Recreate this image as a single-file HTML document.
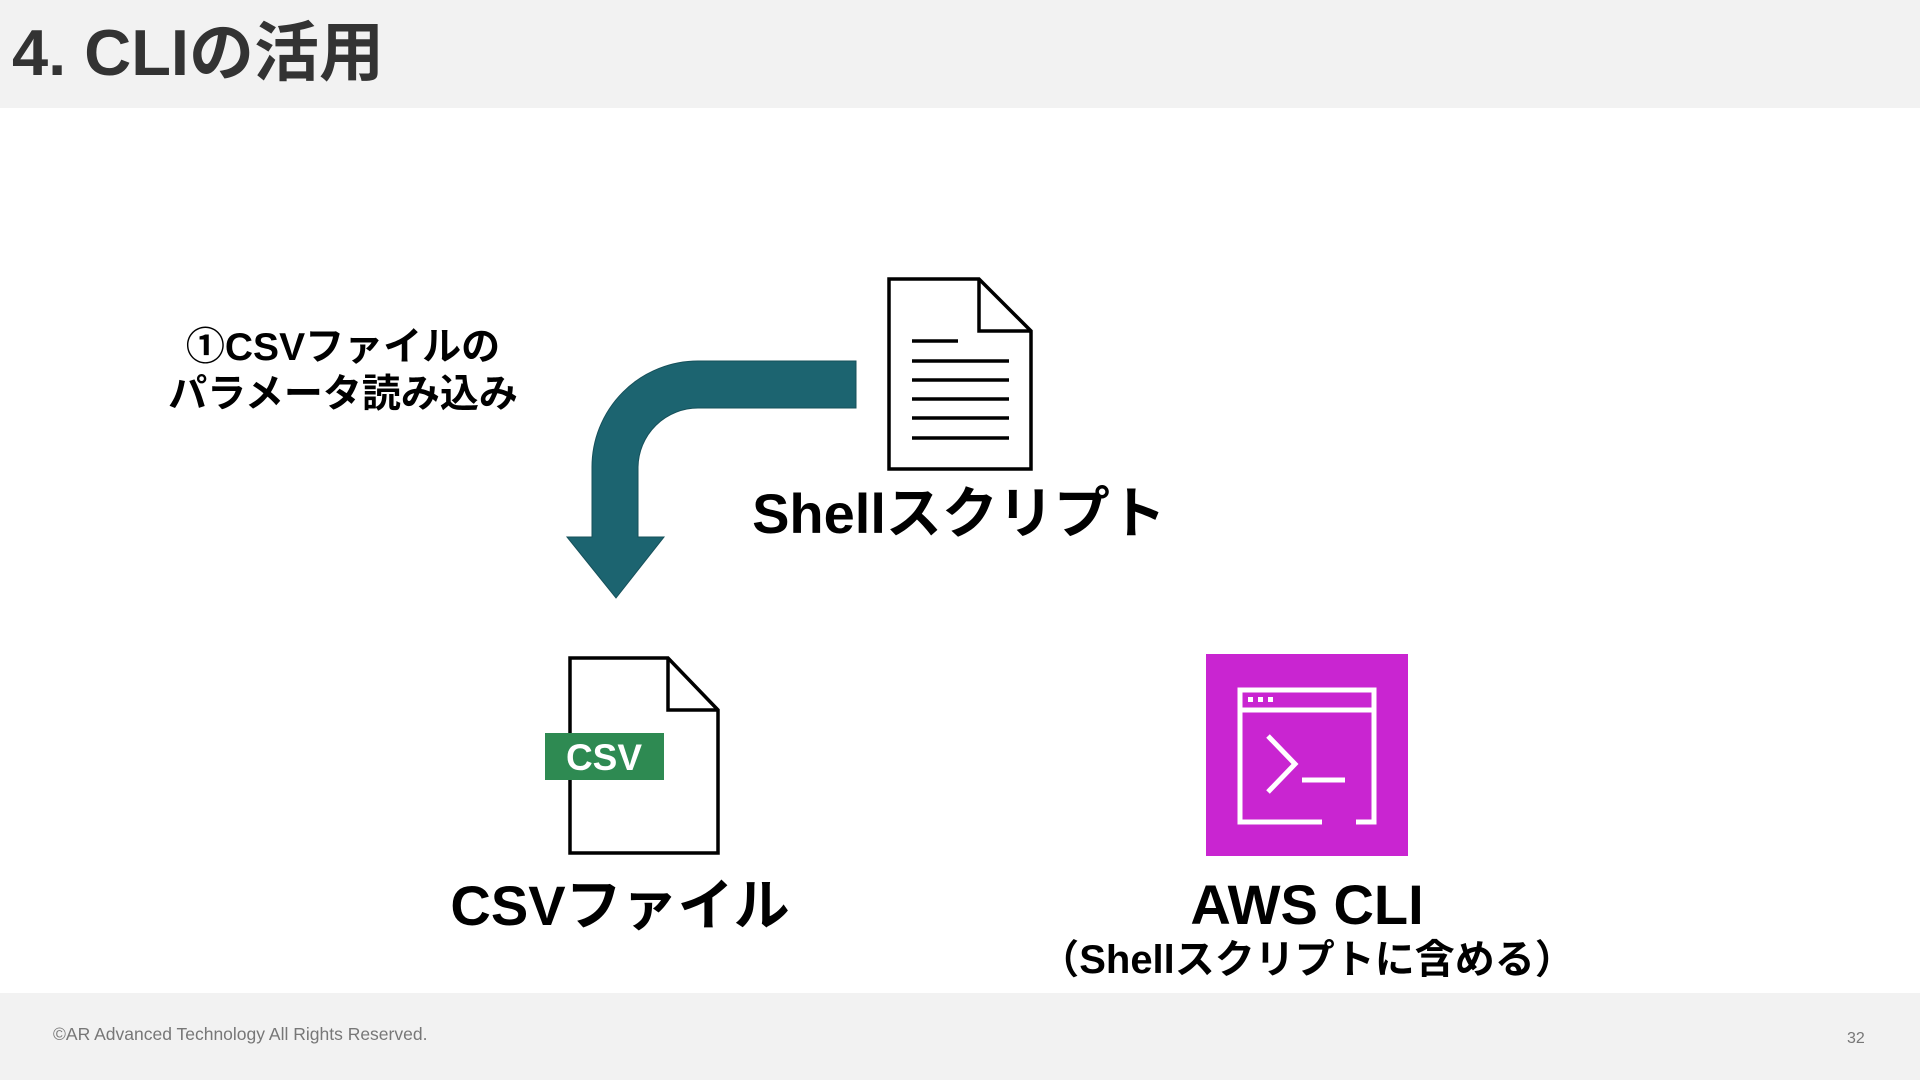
<!DOCTYPE html>
<html><head><meta charset="utf-8"><style>
html,body{margin:0;padding:0;width:1920px;height:1080px;overflow:hidden;background:#fff}
svg{display:block}
text{font-family:"Liberation Sans","Noto Sans CJK JP",sans-serif}
</style></head><body>
<svg width="1920" height="1080" viewBox="0 0 1920 1080" xmlns="http://www.w3.org/2000/svg">
<rect x="0" y="0" width="1920" height="108" fill="#f2f2f2"/>
<text x="12" y="75" font-size="65" font-weight="bold" fill="#333">4. CLIの活用</text>
<rect x="0" y="993" width="1920" height="87" fill="#f2f2f2"/>
<text x="53" y="1040" font-size="17.5" fill="#777">©AR Advanced Technology All Rights Reserved.</text>
<text x="1847" y="1043" font-size="16" fill="#777">32</text>

<!-- shell doc icon -->
<path d="M889 279 H979 L1031 331 V469 H889 Z" fill="#fff" stroke="#000" stroke-width="3.5"/>
<path d="M979 279 V331 H1031" fill="none" stroke="#000" stroke-width="3.5"/>
<g stroke="#000" stroke-width="3.5">
<line x1="912" y1="341" x2="958" y2="341"/>
<line x1="912" y1="361" x2="1009" y2="361"/>
<line x1="912" y1="380" x2="1009" y2="380"/>
<line x1="912" y1="399" x2="1009" y2="399"/>
<line x1="912" y1="418" x2="1009" y2="418"/>
<line x1="912" y1="438" x2="1009" y2="438"/>
</g>
<text x="959" y="533" font-size="56" font-weight="bold" text-anchor="middle" fill="#000">Shellスクリプト</text>

<!-- arrow -->
<path d="M856 361 H698 A106 106 0 0 0 592 467 V537 H567 L616 598 L664 537 H638 V467 A60 60 0 0 1 698 408 H856 Z" fill="#1c6470" stroke="#16505a" stroke-width="1"/>
<text x="343" y="360" font-size="39" font-weight="bold" text-anchor="middle" fill="#000">①CSVファイルの</text>
<text x="343" y="407" font-size="39" font-weight="bold" text-anchor="middle" fill="#000">パラメータ読み込み</text>

<!-- CSV icon -->
<path d="M570 658 H668 L718 710 V853 H570 Z" fill="#fff" stroke="#000" stroke-width="3.5"/>
<path d="M668 658 V710 H718" fill="none" stroke="#000" stroke-width="3.5"/>
<rect x="545" y="733" width="119" height="47" fill="#2e8a52"/>
<text x="604" y="770" font-size="37" font-weight="bold" text-anchor="middle" fill="#fff">CSV</text>
<text x="620" y="925" font-size="56" font-weight="bold" text-anchor="middle" fill="#000">CSVファイル</text>

<!-- AWS CLI icon -->
<rect x="1206" y="654" width="202" height="202" fill="#c925d1"/>
<g fill="none" stroke="#fff" stroke-width="5">
<path d="M1322 822 H1240 V690 H1374 V822 H1356"/>
<line x1="1240" y1="710" x2="1374" y2="710"/>
<path d="M1268 736 L1295 764 L1268 792"/>
<line x1="1302" y1="780" x2="1345" y2="780"/>
</g>
<g fill="#fff"><rect x="1248" y="697" width="5" height="5"/><rect x="1258" y="697" width="5" height="5"/><rect x="1268" y="697" width="5" height="5"/></g>
<text x="1307" y="924" font-size="56" font-weight="bold" text-anchor="middle" fill="#000">AWS CLI</text>
<text x="1307" y="973" font-size="40" font-weight="bold" text-anchor="middle" fill="#000">（Shellスクリプトに含める）</text>
</svg>
</body></html>
